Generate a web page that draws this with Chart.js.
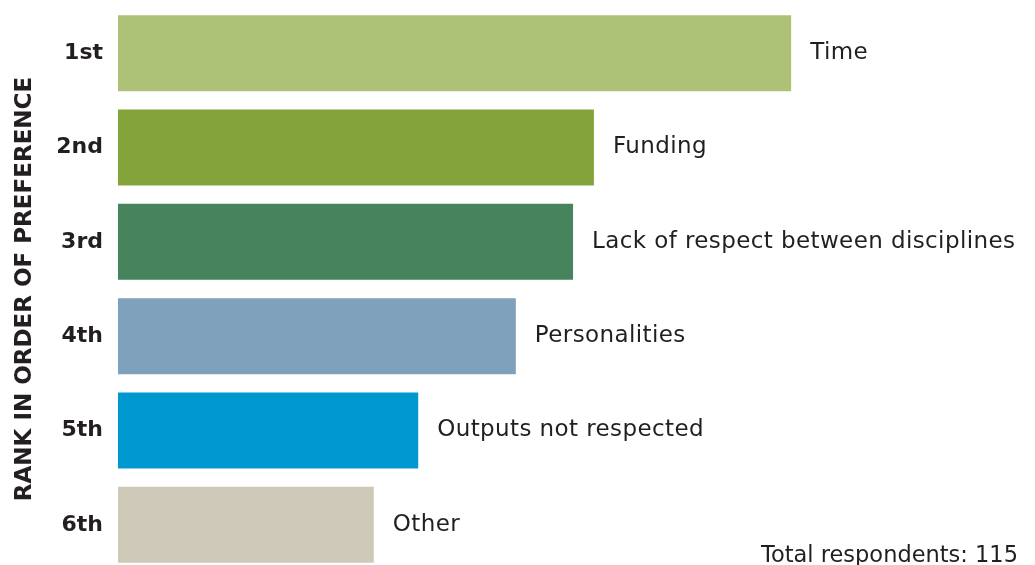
<!DOCTYPE html>
<html lang="en">
<head>
  <meta charset="UTF-8" />
  <title>Rank in order of preference</title>
  <script src="https://cdn.jsdelivr.net/npm/chart.js"></script>
  <style>
    body {
      margin: 0;
      padding: 0;
      background: #ffffff;
      overflow: hidden;
      font-family: "DejaVu Sans", sans-serif;
    }

    #chart-container {
      position: relative;
      width: 1035px;
      height: 578px;
    }

    #note {
      position: absolute;
      right: 17px;
      top: 541px;
      font-size: 22.5px;
      color: #231f20;
      white-space: nowrap;
    }
  </style>
</head>
<body>
  <div id="chart-container">
    <canvas id="chart"></canvas>
    <div id="note">Total respondents: 115</div>
  </div>

  <script>
    const ranks = ['1st', '2nd', '3rd', '4th', '5th', '6th'];
    const reasons = ['Time', 'Funding', 'Lack of respect between disciplines', 'Personalities', 'Outputs not respected', 'Other'];
    const scores = [100, 70.7, 67.6, 59.1, 44.6, 38.0];   // relative, longest bar = 100
    const colours = ['#adc177', '#82a43b', '#47845d', '#7fa1bb', '#0098d1', '#cec8b8'];

    const textColour = '#231f20';
    const font = '"DejaVu Sans", sans-serif';

    // name of each bar written just past its end
    const barLabels = {
      id: 'barLabels',
      afterDatasetsDraw(chart) {
        const ctx = chart.ctx;
        const meta = chart.getDatasetMeta(0);
        ctx.save();
        ctx.font = '23px ' + font;
        ctx.letterSpacing = '0.4px';
        ctx.fillStyle = textColour;
        ctx.textAlign = 'left';
        ctx.textBaseline = 'middle';
        meta.data.forEach((bar, i) => {
          ctx.fillText(reasons[i], bar.x + 19, bar.y);
        });
        ctx.restore();
      }
    };

    const ctx = document.getElementById('chart').getContext('2d');
    const chart = new Chart(ctx, {
      type: 'bar',
      data: {
        labels: ranks,
        datasets: [{
          data: scores,
          backgroundColor: colours,
          borderWidth: 0,
          categoryPercentage: 1,
          barPercentage: 0.805
        }]
      },
      options: {
        indexAxis: 'y',
        animation: false,
        responsive: true,
        maintainAspectRatio: false,
        layout: {
          padding: { top: 6, bottom: 6, left: 0, right: 17 }
        },
        scales: {
          x: {
            display: false,
            min: 0,
            max: 133.7
          },
          y: {
            afterFit(scale) {
              scale.width = 118;
              // no extra room above/below for the tick labels
              scale.paddingTop = 0;
              scale.paddingBottom = 0;
            },
            grid: { display: false, drawTicks: false },
            border: { display: false },
            ticks: {
              padding: 15,
              color: textColour,
              font: { family: font, size: 22, weight: 'bold' }
            },
            title: {
              display: true,
              text: 'RANK IN ORDER OF PREFERENCE',
              color: textColour,
              padding: { top: 11, bottom: 0 },
              font: { family: font, size: 23, weight: 'bold' }
            }
          }
        },
        plugins: {
          legend: { display: false },
          tooltip: { enabled: false }
        }
      },
      plugins: [barLabels]
    });
  </script>
</body>
</html>
